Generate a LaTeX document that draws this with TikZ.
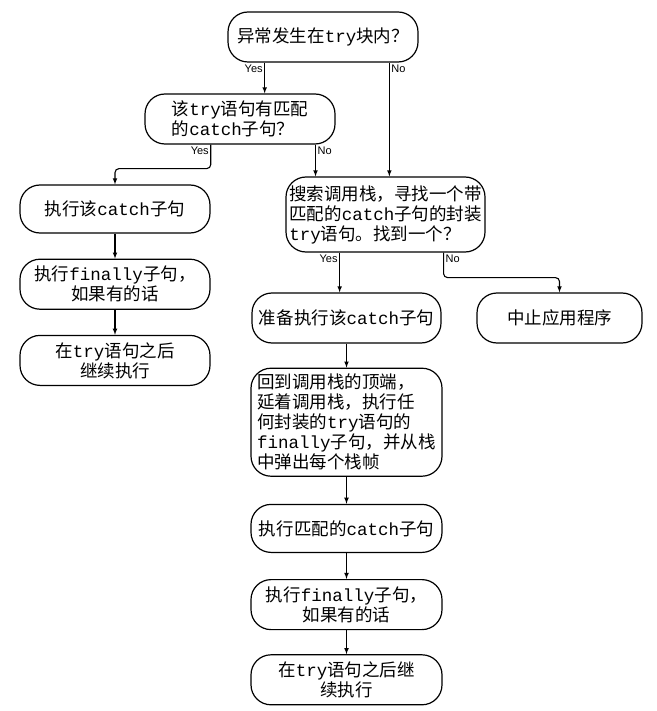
\documentclass[tikz,border=0pt]{standalone}
\usepackage{fontspec}
\setmainfont{Noto Sans CJK SC}
\setmonofont{Liberation Mono}
\newfontfamily\lblfont{Liberation Sans}
\usetikzlibrary{shapes,arrows,positioning,calc}

\begin{document}
\begin{tikzpicture}[
    x=1pt, y=1pt,
    node distance=25pt,
    box/.style={rectangle, rounded corners=20pt, draw, line width=1.2pt, minimum width=190pt, minimum height=50pt, inner sep=3pt, align=center, font=\fontsize{17.5}{20}\selectfont},
    lbl/.style={font=\lblfont\fontsize{11}{12}\selectfont, inner sep=1.5pt},
    flow/.style={->, >=latex, line width=1.1pt, rounded corners=4pt}
]
\useasboundingbox (0,0) rectangle (656,-711);

% decisions
\node[box] (try) at (323,-37) {异常发生在\texttt{try}块内？};
\node[box, align=left] (match) at (240,-119) {该\texttt{try}语句有匹配\\的\texttt{catch}子句？};
\node[box, align=left, minimum width=199pt, minimum height=75pt, inner xsep=2pt] (search) at (385.5,-214.5) {搜索调用栈，寻找一个带\\匹配的\texttt{catch}子句的封装\\\texttt{try}语句。找到一个？};

% left column
\node[box, minimum width=190pt, minimum height=48pt] (catch) at (115,-209) {执行该\texttt{catch}子句};
\node[box, minimum width=190pt, below=25pt of catch] (fin) {执行\texttt{finally}子句，\\如果有的话};
\node[box, minimum width=190pt, below=25pt of fin] (cont) {在\texttt{try}语句之后\\继续执行};

% right column
\node[box, minimum width=189pt] (prep) at (346.5,-318) {准备执行该\texttt{catch}子句};
\node[box, minimum width=165pt] (abort) at (559.5,-318) {中止应用程序};
\node[box, align=left, minimum width=191pt, minimum height=108pt, below=24pt of prep] (unwind) {回到调用栈的顶端，\\延着调用栈，执行任\\何封装的\texttt{try}语句的\\\texttt{finally}子句，并从栈\\中弹出每个栈帧};
\node[box, minimum width=191pt, minimum height=48pt, below=27pt of unwind] (exec) {执行匹配的\texttt{catch}子句};
\node[box, minimum width=191pt, below=26pt of exec] (fin2) {执行\texttt{finally}子句，\\如果有的话};
\node[box, minimum width=191pt, below=24pt of fin2] (cont2) {在\texttt{try}语句之后继\\续执行};

% connectors
\draw[flow] ($(try.south west)!0.195!(try.south east)$) coordinate (tY) node[lbl, below left] {Yes} -- (tY |- match.north);
\draw[flow] ($(try.south west)!0.847!(try.south east)$) coordinate (tN) node[lbl, below right] {No} -- (tN |- search.north);
\draw[flow] ($(match.south west)!0.347!(match.south east)$) node[lbl, below left] {Yes} -- ++(0,-24) -| (catch.north);
\draw[flow] ($(match.south west)!0.895!(match.south east)$) coordinate (mN) node[lbl, below right] {No} -- (mN |- search.north);
\draw[flow] ($(search.south west)!0.271!(search.south east)$) coordinate (sY) node[lbl, below left] {Yes} -- (sY |- prep.north);
\draw[flow] ($(search.south west)!0.79!(search.south east)$) node[lbl, below right] {No} -- ++(0,-25) -| (abort.north);

\draw[flow] (catch) -- (fin);
\draw[flow] (fin) -- (cont);
\draw[flow] (prep.south -| unwind.north) -- (unwind);
\draw[flow] (unwind) -- (exec);
\draw[flow] (exec) -- (fin2);
\draw[flow] (fin2) -- (cont2);

\end{tikzpicture}
\end{document}
